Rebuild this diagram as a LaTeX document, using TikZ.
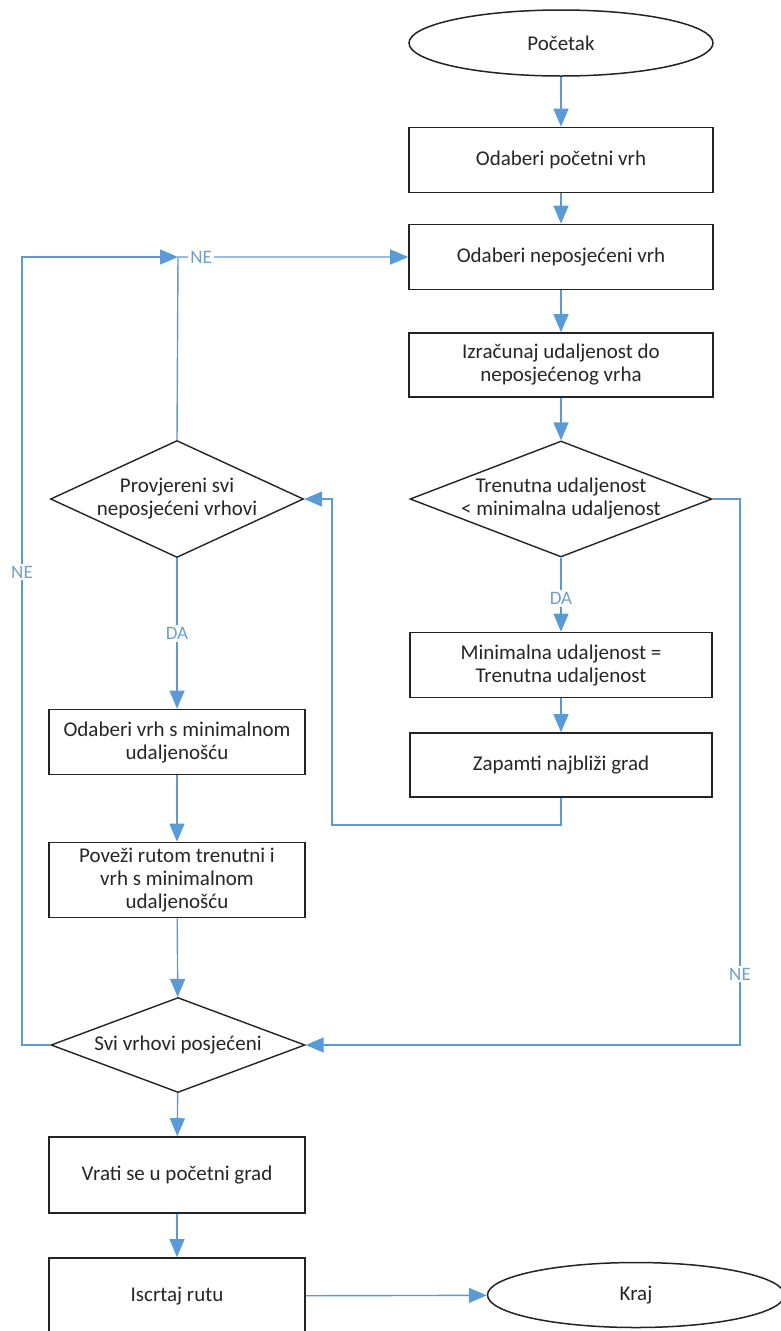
\documentclass[tikz,border=0pt]{standalone}
\usepackage{fontspec}
\setmainfont{Carlito}
\usetikzlibrary{shapes.geometric,arrows.meta}
\definecolor{conn}{RGB}{91,155,213}
\definecolor{lbl}{RGB}{110,160,205}
\definecolor{edge}{RGB}{35,35,35}
\tikzset{
  every node/.style={font=\fontsize{21}{23}\selectfont, text=black!85},
  procbox/.style={draw=edge, line width=1.6pt, fill=white, rectangle, align=center, inner sep=0pt},
  termin/.style={draw=edge, line width=1.5pt, fill=white, ellipse, inner sep=0pt},
  dia/.style={draw=edge, line width=1.4pt, fill=white, diamond, inner sep=0pt},
  dtext/.style={align=center, inner sep=0pt},
  conn/.style={draw=conn, line width=1.4pt, -{Triangle[length=18pt,width=15pt]}},
  lab/.style={fill=white, text=lbl, inner sep=2pt, font=\fontsize{19}{20}\selectfont}
}
\begin{document}
\begin{tikzpicture}[x=1pt,y=-1pt]
\useasboundingbox (0,0) rectangle (781,1331);
% right column
\node[termin, minimum width=304pt, minimum height=66pt] (start) at (561,43) {Početak};
\node[procbox, minimum width=304pt, minimum height=65pt] (b1) at (561,160) {Odaberi početni vrh};
\node[procbox, minimum width=304pt, minimum height=65pt] (b2) at (561,257) {Odaberi neposjećeni vrh};
\node[procbox, minimum width=304pt, minimum height=64pt] (b3) at (561,365) {Izračunaj udaljenost do\\neposjećenog vrha};
\node[dia, minimum width=302pt, minimum height=116pt] (d1) at (561,499) {};
\node[dtext] (d1t) at (d1.center) {Trenutna udaljenost\\< minimalna udaljenost};
\node[procbox, minimum width=302pt, minimum height=65pt] (b4) at (561,665) {Minimalna udaljenost =\\Trenutna udaljenost};
\node[procbox, minimum width=302pt, minimum height=64pt] (b5) at (561,765) {Zapamti najbliži grad};
% left column
\node[dia, minimum width=253pt, minimum height=117pt] (d2) at (177,499) {};
\node[dtext] (d2t) at (d2.center) {Provjereni svi\\neposjećeni vrhovi};
\node[procbox, minimum width=256pt, minimum height=65pt] (b6) at (177,742) {Odaberi vrh s minimalnom\\udaljenošću};
\node[procbox, minimum width=256pt, minimum height=75pt] (b7) at (177,880) {Poveži rutom trenutni i\\vrh s minimalnom\\udaljenošću};
\node[dia, minimum width=254pt, minimum height=95pt] (d3) at (178,1045) {};
\node[dtext] (d3t) at (d3.center) {Svi vrhovi posjećeni};
\node[procbox, minimum width=256pt, minimum height=76pt] (b8) at (177,1175) {Vrati se u početni grad};
\node[procbox, minimum width=256pt, minimum height=76pt] (b9) at (177,1296) {Iscrtaj rutu};
\node[termin, minimum width=297pt, minimum height=65pt] (kraj) at (636,1295) {Kraj};
% helper coordinates
\coordinate (j1) at (178,257);
\coordinate (r1) at (332,825);
\coordinate (r2) at (332,499);
\coordinate (rr1) at (740,499);
\coordinate (rr2) at (740,1045);
\coordinate (l1) at (22,1045);
\coordinate (l2) at (22,257);
% connectors
\draw[conn] (start) -- (b1);
\draw[conn] (b1) -- (b2);
\draw[conn] (b2) -- (b3);
\draw[conn] (b3) -- (d1);
\draw[conn] (d1.south) -- node[lab, pos=0.55] {DA} (b4.north);
\draw[conn] (b4) -- (b5);
\draw[conn] (b5.south) |- (r1) -- (r2) -- (d2.east);
\draw[conn] (d1.east) -- (rr1) -- node[lab, pos=0.87] {NE} (rr2) -- (d3.east);
\draw[conn] (d2.north) -- (j1) -- node[lab, pos=0.1] {NE} (b2.west);
\draw[conn] (d2.south) -- node[lab, pos=0.5] {DA} (b6.north);
\draw[conn] (b6) -- (b7);
\draw[conn] (b7) -- (d3);
\draw[conn] (d3.west) -- (l1) -- node[lab, pos=0.6] {NE} (l2) -- (j1);
\draw[conn] (d3) -- (b8);
\draw[conn] (b8) -- (b9);
\draw[conn] (b9) -- (kraj);
\end{tikzpicture}
\end{document}
